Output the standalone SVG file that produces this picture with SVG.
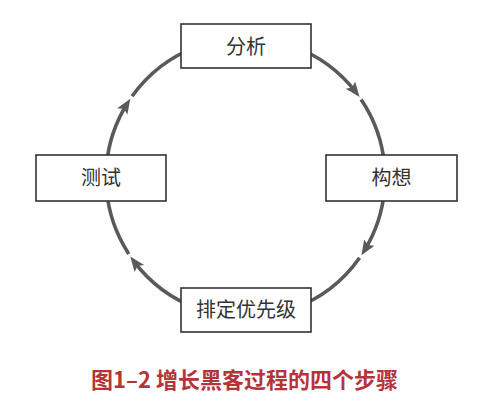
<svg xmlns="http://www.w3.org/2000/svg" width="483" height="403" viewBox="0 0 483 403">
  <style>
    .box { fill: #ffffff; stroke: #333333; stroke-width: 1.6; }
    .lbl { font-family: "Noto Sans CJK SC", "Liberation Sans", sans-serif; font-size: 20px; fill: #333333; text-anchor: middle; }
    .arc { fill: none; stroke: #5a5a5a; stroke-width: 3.6; }
    .cap { font-family: "Noto Sans CJK SC", "Liberation Sans", sans-serif; font-size: 22px; font-weight: bold; fill: #b5343a; text-anchor: middle; }
  </style>
  <defs>
    <marker id="arrow" markerUnits="userSpaceOnUse" markerWidth="20" markerHeight="16" viewBox="-10 -8 20 16" refX="0" refY="0" orient="auto" overflow="visible">
      <path d="M-9,-6 L6,0 L-9,6 L-6,0 Z" fill="#5a5a5a"/>
    </marker>
  </defs>
  <rect width="483" height="403" fill="#ffffff"/>
  <g id="connectors">
    <g id="c-analysis-ideate">
      <path class="arc" d="M293.2,46.4 A139.5,139.5 0 0 1 355.9,92.2" marker-end="url(#arrow)"/>
      <path class="arc" d="M361.1,99.5 A139.5,139.5 0 0 1 384.5,165.3"/>
    </g>
    <g id="c-ideate-prioritize">
      <path class="arc" d="M384.5,189.7 A139.5,139.5 0 0 1 364.6,250.2" marker-end="url(#arrow)"/>
      <path class="arc" d="M359.6,257.7 A139.5,139.5 0 0 1 293.2,308.6"/>
    </g>
    <g id="c-prioritize-test">
      <path class="arc" d="M197.8,308.6 A139.5,139.5 0 0 1 133.9,261.3" marker-end="url(#arrow)"/>
      <path class="arc" d="M128.8,253.9 A139.5,139.5 0 0 1 106.5,189.7"/>
    </g>
    <g id="c-test-analysis">
      <path class="arc" d="M106.5,165.3 A139.5,139.5 0 0 1 127.1,103.8" marker-end="url(#arrow)"/>
      <path class="arc" d="M132.1,96.3 A139.5,139.5 0 0 1 197.8,46.4"/>
    </g>
  </g>
  <g id="node-analysis">
    <rect class="box" x="181" y="24" width="130" height="44"/>
    <text class="lbl" x="246" y="54">分析</text>
  </g>
  <g id="node-ideate">
    <rect class="box" x="326" y="155" width="131" height="46"/>
    <text class="lbl" x="391.5" y="185">构想</text>
  </g>
  <g id="node-prioritize">
    <rect class="box" x="181" y="288" width="130" height="44"/>
    <text class="lbl" x="246" y="317">排定优先级</text>
  </g>
  <g id="node-test">
    <rect class="box" x="36" y="155" width="130" height="46"/>
    <text class="lbl" x="101" y="185">测试</text>
  </g>
  <text class="cap" x="244.5" y="388">图1–2 增长黑客过程的四个步骤</text>
</svg>
